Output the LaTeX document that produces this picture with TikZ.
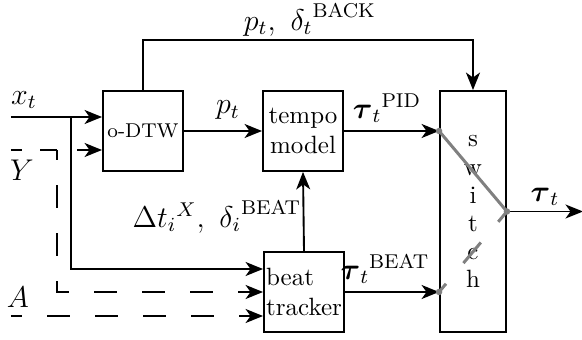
\documentclass[tikz,border=0pt]{standalone}
\usepackage{amsmath}
\usetikzlibrary{arrows.meta,calc}
\begin{document}
\begin{tikzpicture}[x=0.4pt,y=-0.4pt,
  every node/.style={inner sep=0pt},
  blk/.style={draw,line width=0.75pt,minimum width=32pt,minimum height=32pt,align=center},
  arr/.style={line width=0.75pt,-{Stealth[length=7pt,width=5.6pt,inset=2pt]}},
  dsh/.style={line width=0.75pt,dash pattern=on 9.2pt off 10pt},
  lbl/.style={font=\large},
  swline/.style={gray,line width=1.2pt},
]
\useasboundingbox (0,0) rectangle (582,340);
% blocks
\node[blk,font=\footnotesize] (odtw) at (143,131) {o-DTW};
\node[blk] (tempo) at (303,131) {tempo\\model};
\node[blk,align=left] (beat) at (304,292) {beat\\tracker};
\node[draw,line width=0.75pt,minimum width=26.4pt,minimum height=96.4pt] (sw) at (473,211.5) {};
\foreach \l [count=\i from 0] in {s,w,i,t,c,h}
  \node[anchor=base] (swl\i) at (473,{147+28.2*\i}) {\l};
% free ends
\coordinate (xin) at (11,117);
\coordinate (xbr) at (71,117);
\coordinate (yin) at (11,150);
\coordinate (ybr) at (57,150);
\coordinate (ain) at (11,316);
\coordinate (out) at (583,211.5);
% solid connectors
\draw[arr] (xin) -- (xin -| odtw.west);
\draw[arr] (xbr) |- ($(beat.west)+(0,-23)$);
\draw[arr] (odtw.east |- tempo.west) -- (tempo.west);
\draw[arr] (odtw.north) -- ++(0,-50) -| (sw.north);
\draw[arr] (tempo.east) -- (tempo.east -| sw.west);
\draw[arr] (beat.east) -- (beat.east -| sw.west);
\draw[arr] (beat.north) -- (tempo.south);
\draw[arr] (sw.east) -- (out);
% dashed connectors
\draw[line width=0.75pt,dash pattern=on 4.4pt off 7.2pt on 10pt off 10pt] (yin) -- (ybr);
\draw[arr,dash pattern=on 0pt off 8pt on 30pt] (ybr) -- (ybr -| odtw.west);
\draw[arr,dsh,dash phase=5.2pt] (ybr) |- (beat.west);
\draw[arr,dsh,dash phase=4.8pt] (ain) -- (ain -| beat.west);
% switch
\coordinate (s1) at (tempo.east -| sw.west);
\coordinate (s2) at (sw.east);
\coordinate (s3) at (beat.east -| sw.west);
\draw[swline] (s1) -- (s2);
\draw[swline,dash pattern=on 10.8pt off 10.8pt,dash phase=5.4pt] (s2) -- (s3);
\fill[gray] (s1) circle (1.3pt) (s2) circle (1.3pt) (s3) circle (1.3pt);
% labels
\node[lbl] (lxt) at (24,100) {$x_t$};
\node[lbl] (lY) at (22,170) {$Y$};
\node[lbl] (lA) at (18,297) {$A$};
\node[lbl] (lpt) at (228,110) {$p_t$};
\node[lbl] (ltop) at (310,20) {$p_t,\ {\delta_t}^{\mathrm{BACK}}$};
\node[lbl] (ldel) at (217,217) {$\Delta {t_i}^X,\ {\delta_i}^{\mathrm{BEAT}}$};
\node[lbl] (lpid) at (387,108) {${\boldsymbol{\tau}_t}^{\mathrm{PID}}$};
\node[lbl] (lbeat) at (385,269) {${\boldsymbol{\tau}_t}^{\mathrm{BEAT}}$};
\node[lbl] (ltau) at (545,197) {$\boldsymbol{\tau}_t$};
\end{tikzpicture}
\end{document}
